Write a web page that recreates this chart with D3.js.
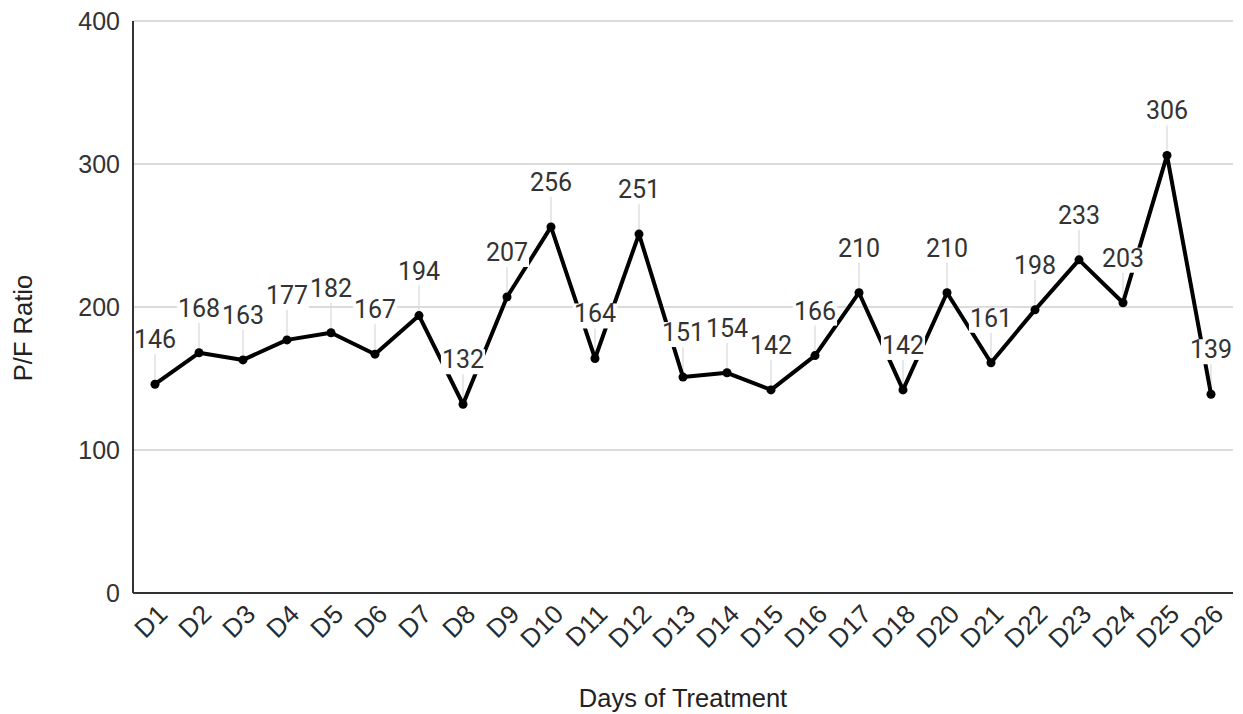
<!DOCTYPE html>
<html><head><meta charset="utf-8">
<script src="https://cdn.jsdelivr.net/npm/d3@7"></script>
<style>body{margin:0;background:#fff}svg{display:block}</style>
</head><body><svg id="c" width="1243" height="714"></svg>
<script>
const categories = ["D1","D2","D3","D4","D5","D6","D7","D8","D9","D10","D11","D12","D13","D14","D15","D16","D17","D18","D20","D21","D22","D23","D24","D25","D26"];
const values = [146,168,163,177,182,167,194,132,207,256,164,251,151,154,142,166,210,142,210,161,198,233,203,306,139];
const yTicks = [0,100,200,300,400];

const svg = d3.select("#c");
const m = {l:133, r:1233, t:21, b:593};
const x = d3.scaleBand().domain(categories).range([m.l, m.r]);
const y = d3.scaleLinear().domain([0,400]).range([m.b, m.t]);
const cx = d => x(d) + x.bandwidth()/2;
const AX = "'Liberation Sans', Arial, sans-serif";

// gridlines
svg.append("g").selectAll("line").data(yTicks.filter(t=>t>0)).join("line")
  .attr("x1", m.l).attr("x2", m.r).attr("y1", d=>y(d)).attr("y2", d=>y(d))
  .attr("stroke", "#cfcfcf").attr("stroke-width", 1.3);

// y tick labels
svg.append("g").selectAll("text").data(yTicks).join("text")
  .attr("x", 120).attr("y", d=>y(d)).attr("dy", "0.36em")
  .attr("text-anchor","end").attr("font-family",AX)
  .attr("font-size", 25).attr("fill","#333").text(d=>d);

// x tick labels
svg.append("g").selectAll("text").data(categories).join("text")
  .attr("transform", d=>`translate(${cx(d)+1},${603}) rotate(-45)`)
  .attr("text-anchor","end").attr("dy","0.7em")
  .attr("font-family",AX)
  .attr("font-size", 26).attr("fill","#2a2a2a").text(d=>d);

// leader lines
const pts = categories.map((c,i)=>({c, v:values[i]}));
svg.append("g").selectAll("line").data(pts).join("line")
  .attr("x1", d=>cx(d.c)).attr("x2", d=>cx(d.c))
  .attr("y1", d=>y(d.v)-4).attr("y2", d=>y(d.v)-33)
  .attr("stroke","#d9d9d9").attr("stroke-width",1.2);

// line
svg.append("path").datum(pts)
  .attr("d", d3.line().x(d=>cx(d.c)).y(d=>y(d.v)))
  .attr("fill","none").attr("stroke","#000").attr("stroke-width",4).attr("stroke-linejoin","round");

svg.append("g").selectAll("circle").data(pts).join("circle")
  .attr("cx", d=>cx(d.c)).attr("cy", d=>y(d.v)).attr("r",4.5).attr("fill","#000");

// data labels with white background
const lg = svg.append("g");
pts.forEach(d=>{
  const g = lg.append("g");
  const t = g.append("text").attr("x", cx(d.c)).attr("y", y(d.v)-36)
    .attr("text-anchor","middle").attr("font-family","Roboto, sans-serif")
    .attr("font-size",25).attr("fill","#333").text(d.v);
  const bb = t.node().getBBox();
  g.insert("rect","text").attr("x", bb.x-1).attr("y", bb.y+4).attr("width", bb.width+2).attr("height", bb.height-4).attr("fill","#fff");
});

// axes
svg.append("line").attr("x1",m.l).attr("x2",m.l).attr("y1",m.t).attr("y2",m.b).attr("stroke","#333").attr("stroke-width",2);
svg.append("line").attr("x1",m.l).attr("x2",m.r).attr("y1",m.b).attr("y2",m.b).attr("stroke","#333").attr("stroke-width",2);

// titles
svg.append("text").attr("x",683).attr("y",707).attr("text-anchor","middle")
  .attr("font-family",AX).attr("font-size",25.5).attr("fill","#222").text("Days of Treatment");
svg.append("text").attr("transform","translate(32,328) rotate(-90)").attr("text-anchor","middle")
  .attr("font-family",AX).attr("font-size",25.5).attr("fill","#222").text("P/F Ratio");
</script></body></html>
